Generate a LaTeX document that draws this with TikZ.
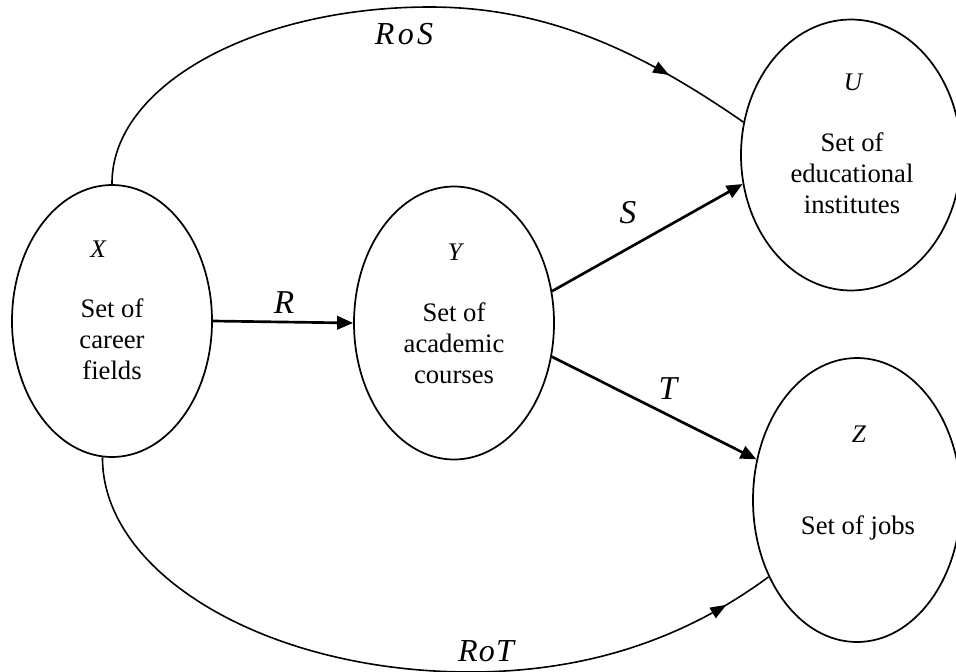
\documentclass[tikz,border=0pt]{standalone}
\usepackage{fontspec}
\setmainfont{Liberation Serif}
\usetikzlibrary{arrows.meta,shapes.geometric,decorations.markings}
\begin{document}
\begin{tikzpicture}[x=0.75pt,y=-0.75pt,
  setell/.style={draw,ellipse,line width=1.3pt,inner sep=0pt},
  settext/.style={align=center,font=\fontsize{20}{23.25}\selectfont,inner sep=0pt},
  setname/.style={font=\fontsize{19}{22}\selectfont\itshape,inner sep=0pt},
  maplabel/.style={font=\fontsize{25}{30}\selectfont\itshape,inner sep=0pt},
  maparrow/.style={line width=2pt,-{Triangle[length=12pt,width=10pt]}},
  comparc/.style={line width=1.2pt,postaction={decorate},
    decoration={markings,mark=at position #1 with {\arrow{Triangle[length=12pt,width=9pt]}}}},
]
\useasboundingbox (0,0) rectangle (956,671);
\clip (0,0) rectangle (956,671);
\fill[white] (0,0) rectangle (956,671);

% sets
\node[setell,minimum width=150pt,minimum height=204pt] (X) at (112,321) {};
\node[setell,minimum width=150pt,minimum height=204.75pt] (Y) at (454,323) {};
\node[setell,minimum width=165pt,minimum height=203.25pt] (U) at (851,155) {};
\node[setell,minimum width=156pt,minimum height=213pt] (Z) at (857,500) {};

\node[setname] (Xn) at (98,249) {X};
\node[settext] (Xt) at (112,339) {Set of\\career\\fields};
\node[setname] (Yn) at (455,252) {Y};
\node[settext] (Yt) at (454,343) {Set of\\academic\\courses};
\node[setname] (Un) at (853,82) {U};
\node[settext] (Ut) at (852,173) {Set of\\educational\\institutes};
\node[setname] (Zn) at (859,434) {Z};
\node[settext,anchor=base] (Zt) at (858,534) {Set of jobs};

% relations
\draw[maparrow] (X.east) -- (Y.west);
\draw[maparrow] (Y.18) -- (U.195);
\draw[maparrow] (Y.-19) -- (Z.158);

\node[maplabel] (Rl) at (284,303) {R};
\node[maplabel] (Sl) at (628,213) {S};
\node[maplabel] (Tl) at (668,389) {T};

% compositions
\coordinate (rosTop) at (430,7);
\coordinate (rotBot) at (470,672);
\draw[comparc=-66pt] (X.north) .. controls (111,86) and (254,7) .. (rosTop)
  .. controls (550,7) and (645,54) .. (U.163);
\draw[comparc=-38pt] (X.266) .. controls (102,574) and (267,672) .. (rotBot)
  .. controls (590,672) and (687,637) .. (Z.221);

\node[maplabel,font=\fontsize{24}{28}\selectfont\itshape] (RoSl) at (404,34) {R\kern2.5pt o\kern2.5pt S};
\node[maplabel,font=\fontsize{24}{28}\selectfont\itshape] (RoTl) at (486,651) {R\kern1pt o\kern1pt T};
\end{tikzpicture}
\end{document}
